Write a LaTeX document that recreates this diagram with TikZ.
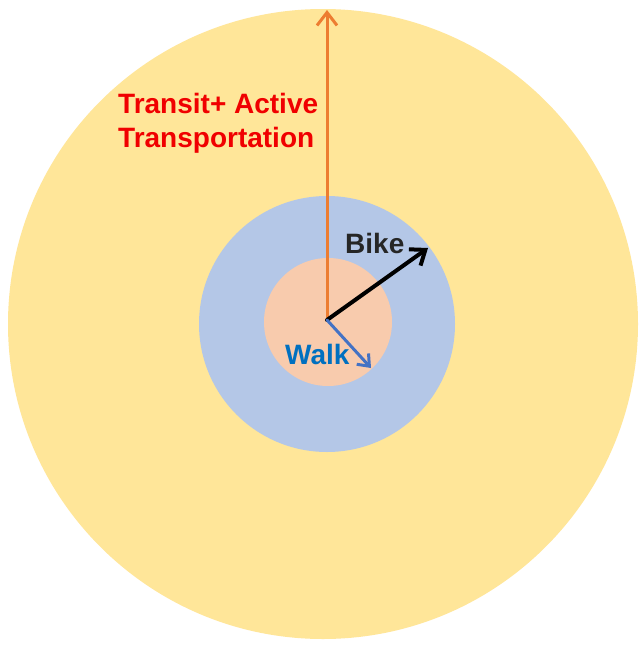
\documentclass[tikz,border=0pt]{standalone}
\usepackage{fontspec}
\setmainfont{Liberation Sans}
\usetikzlibrary{arrows.meta}
\definecolor{ringouter}{HTML}{FFE699}
\definecolor{ringmid}{HTML}{B4C7E7}
\definecolor{ringinner}{HTML}{F8CBAD}
\definecolor{transitcol}{HTML}{ED7D31}
\definecolor{walkcol}{HTML}{4472C4}
\definecolor{walktext}{HTML}{0070C0}
\definecolor{biketext}{HTML}{262626}
\definecolor{transittext}{HTML}{F00000}
\tikzset{
  zone/.style={circle, inner sep=0pt, draw=none},
  label text/.style={font=\bfseries\fontsize{28}{34}\selectfont, inner sep=0pt, anchor=base west},
  reach/.style={line width=#1, line cap=round, line join=round},
}
\begin{document}
\begin{tikzpicture}[x=1pt, y=-1pt]
  \useasboundingbox[fill=white] (0,0) rectangle (641,645);
  % nested catchment zones
  \node[zone, fill=ringouter, minimum size=630pt] (outer) at (323,324) {};
  \node[zone, fill=ringmid, minimum size=256pt] (mid) at (327,324) {};
  \node[zone, fill=ringinner, minimum size=128pt] (inner) at (328,322) {};
  % common origin and reach end points
  \coordinate (origin) at (327,320);
  \coordinate (transitend) at (327,10);
  \coordinate (bikeend) at (428,248);
  \coordinate (walkend) at (371,368);
  % reach arrows
  \draw[reach=3pt, transitcol, -{Straight Barb[length=13pt, width=20pt]}] (origin) -- (transitend);
  \draw[reach=4pt, black, -{Straight Barb[length=13pt, width=20pt]}] (origin) -- (bikeend);
  \draw[reach=3pt, walkcol, -{Straight Barb[length=10pt, width=16pt]}] (origin) -- (walkend);
  % labels
  \node[label text, transittext, align=left] (transit) at (118,147) {Transit+ Active\\Transportation};
  \node[label text, biketext] (bike) at (345,253) {Bike};
  \node[label text, walktext] (walk) at (285,364) {Walk};
\end{tikzpicture}
\end{document}
